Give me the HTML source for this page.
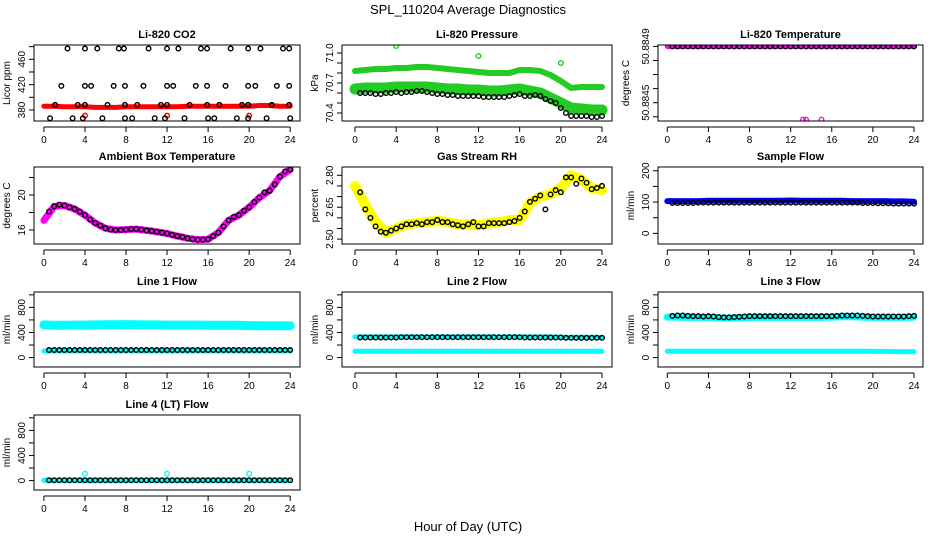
<!DOCTYPE html>
<html><head><meta charset="utf-8"><style>
html,body{margin:0;padding:0;background:#fff;}
svg{display:block;font-family:"Liberation Sans",Arial,sans-serif;}
</style></head><body>
<svg id="chart" width="936" height="540" viewBox="0 0 936 540" xmlns="http://www.w3.org/2000/svg">
<text x="468" y="14" text-anchor="middle" font-size="13">SPL_110204  Average Diagnostics</text>
<text x="468" y="531" text-anchor="middle" font-size="13">Hour of Day (UTC)</text>
</svg>
<script>
// ---- data ----
const hourly = [0,1,2,3,4,5,6,7,8,9,10,11,12,13,14,15,16,17,18,19,20,21,22,23,24];
const halfHours = [0.5,1,1.5,2,2.5,3,3.5,4,4.5,5,5.5,6,6.5,7,7.5,8,8.5,9,9.5,10,10.5,11,11.5,12,12.5,13,13.5,14,14.5,15,15.5,16,16.5,17,17.5,18,18.5,19,19.5,20,20.5,21,21.5,22,22.5,23,23.5,24];
const xTicks = [0,4,8,12,16,20,24];

// CO2
const co2BlackHours = [2.3,4.0,5.2,7.3,7.8,10.2,12.0,13.1,15.3,15.9,18.2,19.9,21.1,23.3,23.9,
 1.7,4.0,4.6,6.8,7.9,9.7,12.0,12.6,14.8,15.9,17.7,19.9,20.6,22.7,23.9,
 1.1,3.3,4.0,6.2,7.9,9.1,11.4,12.0,14.2,15.9,17.1,19.3,19.9,22.2,23.9,
 0.6,2.8,3.8,5.7,7.9,8.6,10.8,11.8,13.7,16.0,16.6,18.8,19.9,21.7,24.0];
const co2BlackValues = [477,477,477,477,477,477,477,477,477,477,477,477,477,477,477,
 418,418,418,418,418,418,418,418,418,418,418,418,418,418,418,
 388,388,388,388,388,388,388,388,388,388,388,388,388,388,388,
 367,367,367,367,367,367,367,367,367,367,367,367,367,367,367];
const co2Band = [386,386,385,385,385,384,384,384,385,385,385,385,385,385,386,386,386,386,386,386,386,387,387,386,386];
const co2OutHours = [4,12,20];
const co2OutValues = [371,371,371];

// Pressure
const presBlack = [70.60,70.60,70.60,70.59,70.59,70.60,70.60,70.61,70.60,70.61,70.61,70.62,70.62,70.61,70.60,70.59,
 70.59,70.58,70.58,70.57,70.57,70.57,70.57,70.57,70.56,70.56,70.56,70.56,70.56,70.57,70.58,70.59,
 70.57,70.57,70.58,70.57,70.54,70.52,70.50,70.45,70.40,70.37,70.37,70.37,70.37,70.36,70.36,70.37];
const presUpper = [70.82,70.83,70.84,70.84,70.85,70.85,70.86,70.86,70.85,70.84,70.83,70.82,70.81,70.80,70.80,70.80,70.83,70.83,70.82,70.78,70.72,70.65,70.66,70.66,70.66];
const presMiddle = [70.64,70.65,70.65,70.65,70.66,70.66,70.66,70.66,70.65,70.64,70.64,70.63,70.63,70.62,70.62,70.63,70.64,70.62,70.60,70.55,70.50,70.45,70.44,70.43,70.43];
const presOutHours = [4,12,20];
const presOutValues = [71.07,70.97,70.9];

// Li-820 temperature
const tempBlack = [50.8849,50.8849,50.8849,50.8849,50.8849,50.8849,50.8849,50.8849,50.8849,50.8849,50.8849,50.8849,50.8849,50.8849,50.8849,50.8849,50.8849,50.8849,50.8849,50.8849,50.8849,50.8849,50.8849,50.8849,50.8849,50.8849,50.8849,50.8849,50.8849,50.8849,50.8849,50.8849,50.8849,50.8849,50.8849,50.8849,50.8849,50.8849,50.8849,50.8849,50.8849,50.8849,50.8849,50.8849,50.8849,50.8849,50.8849,50.8849];
const tempBand = [50.8849,50.8849,50.8849,50.8849,50.8849,50.8849,50.8849,50.8849,50.8849,50.8849,50.8849,50.8849,50.8849,50.8849,50.8849,50.8849,50.8849,50.8849,50.8849,50.8849,50.8849,50.8849,50.8849,50.8849,50.8849];
const tempOutHours = [0.1,13.2,13.5,15.0];
const tempOutValues = [50.8849,50.88438,50.88438,50.88438];

// Ambient box temperature
const ambBlack = [18.1,18.7,18.9,18.8,18.6,18.4,18.1,17.7,17.2,16.8,16.5,16.2,16.05,16.0,16.0,16.05,16.1,16.1,16.05,15.95,15.9,15.8,15.7,15.6,15.45,15.3,15.2,15.05,14.95,14.9,14.9,14.95,15.3,15.7,16.4,17.1,17.5,17.7,18.2,18.6,19.2,19.7,20.3,20.5,21.2,22.1,22.7,22.9];
const ambBand = [17.1,18.7,18.8,18.4,17.7,16.8,16.2,16.0,16.05,16.1,15.95,15.8,15.6,15.3,15.05,14.9,14.95,15.7,17.1,17.7,18.6,19.7,20.5,22.1,22.9];

// Gas stream RH
const rhBlack = [2.72,2.64,2.60,2.56,2.535,2.53,2.54,2.55,2.56,2.57,2.57,2.575,2.57,2.58,2.58,2.59,2.58,2.58,2.57,2.565,2.56,2.57,2.58,2.56,2.56,2.575,2.575,2.575,2.575,2.58,2.585,2.60,2.63,2.675,2.69,2.705,2.64,2.71,2.73,2.72,2.79,2.79,2.76,2.785,2.765,2.735,2.74,2.75];
const rhBand = [2.75,2.66,2.58,2.53,2.55,2.57,2.575,2.58,2.585,2.58,2.57,2.57,2.565,2.575,2.58,2.59,2.59,2.67,2.70,2.71,2.74,2.80,2.78,2.74,2.73];

// Sample flow
const sampleBlack = [97,97,97,97,97,98,98,98,98,98,98,98,98,98,98,98,98,98,98,98,98,98,98,98,98,98,98,98,98,98,98,98,98,98,98,98,98,97,97,97,96,96,96,95,95,95,95,95];
const sampleBand = [103,103,103,103,104,104,104,104,104,104,104,104,105,104,104,104,104,104,103,103,103,103,102,102,101];

// Line flows
const l1Black = [120,120,120,120,120,120,120,120,120,120,120,120,120,120,120,120,120,120,120,120,120,120,120,120,120,120,120,120,120,120,120,120,120,120,120,120,120,120,120,120,120,120,120,120,120,120,120,120];
const l1Upper = [520,515,515,518,518,520,522,522,525,522,520,520,518,518,518,518,516,515,515,515,510,508,508,508,508];
const l1Lower = [105,105,105,105,105,105,105,105,105,105,105,105,105,105,105,105,105,105,105,105,105,105,105,105,105];
const l2Black = [320,320,320,320,320,320,320,320,325,325,325,325,325,325,325,325,325,325,325,325,325,325,325,325,325,325,325,325,325,325,325,325,320,320,320,320,320,320,320,320,315,315,315,315,315,315,315,315];
const l2Upper = [330,330,330,330,330,330,330,330,330,330,330,330,330,330,330,330,330,330,330,330,325,325,325,325,325];
const l2Lower = [100,100,100,100,100,100,100,100,100,100,100,100,100,100,100,100,100,100,100,100,100,100,100,100,100];
const l3Black = [665,670,670,665,660,660,655,660,655,645,640,640,645,650,655,660,660,660,660,660,660,660,660,660,660,660,660,660,660,660,660,660,665,670,670,670,670,665,660,655,655,655,655,655,655,655,660,665];
const l3Upper = [645,645,640,640,640,635,630,635,640,640,640,640,640,640,640,640,645,650,650,645,640,640,640,640,645];
const l3Lower = [100,100,100,100,100,100,100,100,100,100,100,100,100,100,100,100,100,100,100,100,98,98,95,95,95];
const l4Black = [5,5,5,5,5,5,5,5,5,5,5,5,5,5,5,5,5,5,5,5,5,5,5,5,5,5,5,5,5,5,5,5,5,5,5,5,5,5,5,5,5,5,5,5,5,5,5,5];
const l4Band = [5,5,5,5,5,5,5,5,5,5,5,5,5,5,5,5,5,5,5,5,5,5,5,5,5];
const l4OutHours = [4,12,20];
const l4OutValues = [110,110,110];

// ---- layout ----
const NS = 'http://www.w3.org/2000/svg';
const svg = document.getElementById('chart');
const cols = [{l:34,r:300,x0:43.9,x24:290.2},{l:342,r:612,x0:355,x24:602},{l:658,r:923,x0:667.3,x24:914}];
const rows = [{t:45,b:121},{t:167,b:244},{t:292,b:367},{t:415,b:490}];
const flowTicks=[0,200,400,600,800,1000], flowLabels=[0,400,800];

const panels = [
 {name:'co2',title:'Li-820 CO2',ylab:'Licor ppm',c:0,r:0,yTop:482.6,yBot:362.6,ticks:[380,400,420,440,460,480],labels:[380,420,460],
  bands:[{h:hourly,v:co2Band,col:'#ff0000',w:5}],black:{h:co2BlackHours,v:co2BlackValues},outs:[{h:co2OutHours,v:co2OutValues,col:'#ff0000'}]},
 {name:'pressure',title:'Li-820 Pressure',ylab:'kPa',c:1,r:0,yTop:71.08,yBot:70.32,ticks:[70.4,70.5,70.6,70.7,70.8,70.9,71.0],labels:['70.4','70.7','71.0'],
  bands:[{h:hourly,v:presUpper,col:'#22cc22',w:6},{h:hourly,v:presMiddle,col:'#22cc22',w:11}],black:{h:halfHours,v:presBlack},outs:[{h:presOutHours,v:presOutValues,col:'#22cc22'}]},
 {name:'temperature',title:'Li-820 Temperature',ylab:'degrees C',c:2,r:0,yTop:50.88491,yBot:50.88437,ticks:[50.8844,50.8845,50.8846,50.8847,50.8848,50.8849],labels:['50.8845','50.8849'],
  bands:[{h:hourly,v:tempBand,col:'#ff00ff',w:5}],black:{h:halfHours,v:tempBlack},outs:[{h:tempOutHours,v:tempOutValues,col:'#ff00ff'}]},
 {name:'ambient-temp',title:'Ambient Box Temperature',ylab:'degrees C',c:0,r:1,yTop:23.2,yBot:14.4,ticks:[16,18,20,22],labels:[16,20],
  bands:[{h:hourly,v:ambBand,col:'#ff00ff',w:7}],black:{h:halfHours,v:ambBlack},outs:[]},
 {name:'gas-rh',title:'Gas Stream RH',ylab:'percent',c:1,r:1,yTop:2.839,yBot:2.477,ticks:[2.50,2.55,2.60,2.65,2.70,2.75,2.80],labels:['2.50','2.65','2.80'],
  bands:[{h:hourly,v:rhBand,col:'#ffff00',w:10}],black:{h:halfHours,v:rhBlack},outs:[]},
 {name:'sample-flow',title:'Sample Flow',ylab:'ml/min',c:2,r:1,yTop:212,yBot:-34,ticks:[0,50,100,150,200],labels:[0,100,200],
  bands:[{h:hourly,v:sampleBand,col:'#0000ff',w:6}],black:{h:halfHours,v:sampleBlack},outs:[]},
 {name:'line1-flow',title:'Line 1 Flow',ylab:'ml/min',c:0,r:2,yTop:1045,yBot:-150,ticks:flowTicks,labels:flowLabels,
  bands:[{h:hourly,v:l1Upper,col:'#00ffff',w:9},{h:hourly,v:l1Lower,col:'#00ffff',w:5}],black:{h:halfHours,v:l1Black},outs:[]},
 {name:'line2-flow',title:'Line 2 Flow',ylab:'ml/min',c:1,r:2,yTop:1045,yBot:-150,ticks:flowTicks,labels:flowLabels,
  bands:[{h:hourly,v:l2Upper,col:'#00ffff',w:5},{h:hourly,v:l2Lower,col:'#00ffff',w:5}],black:{h:halfHours,v:l2Black},outs:[]},
 {name:'line3-flow',title:'Line 3 Flow',ylab:'ml/min',c:2,r:2,yTop:1045,yBot:-150,ticks:flowTicks,labels:flowLabels,
  bands:[{h:hourly,v:l3Upper,col:'#00ffff',w:7},{h:hourly,v:l3Lower,col:'#00ffff',w:5}],black:{h:halfHours,v:l3Black},outs:[]},
 {name:'line4-flow',title:'Line 4 (LT) Flow',ylab:'ml/min',c:0,r:3,yTop:1045,yBot:-150,ticks:flowTicks,labels:flowLabels,
  bands:[{h:hourly,v:l4Band,col:'#00ffff',w:5}],black:{h:halfHours,v:l4Black},outs:[{h:l4OutHours,v:l4OutValues,col:'#00ffff'}]}
];

function mk(tag, attrs, parent){
  const e=document.createElementNS(NS,tag);
  for(const k in attrs) e.setAttribute(k,attrs[k]);
  (parent||svg).appendChild(e); return e;
}

panels.forEach(p=>{
  const C=cols[p.c], R=rows[p.r];
  const xs=h=>C.x0+(C.x24-C.x0)*h/24;
  const ys=v=>R.b-(v-p.yBot)/(p.yTop-p.yBot)*(R.b-R.t);
  const g=mk('g',{});
  
  
  const clipId='clip-'+p.name;
  const cp=mk('clipPath',{id:clipId},g);
  mk('rect',{x:C.l,y:R.t,width:C.r-C.l,height:R.b-R.t},cp);
  const plot=mk('g',{'clip-path':'url(#'+clipId+')'},g);
  p.bands.forEach(b=>{
    const pts=b.h.map((h,i)=>xs(h).toFixed(1)+','+ys(b.v[i]).toFixed(1)).join(' ');
    const pl=mk('polyline',{points:pts,fill:'none',stroke:b.col,'stroke-width':b.w,'stroke-linejoin':'round','stroke-linecap':'round'},plot);
    
    
  });
  p.outs.forEach(o=>{
    o.h.forEach((h,i)=>{
      const c=mk('circle',{cx:xs(h),cy:ys(o.v[i]),r:2.3,fill:'none',stroke:o.col,'stroke-width':1.4},plot);
      
      
    });
  });
  p.black.h.forEach((h,i)=>{
    const c=mk('circle',{cx:xs(h),cy:ys(p.black.v[i]),r:2.3,fill:'none',stroke:'#000','stroke-width':1.4},plot);
    
    
  });
  const box=mk('rect',{x:C.l,y:R.t,width:C.r-C.l,height:R.b-R.t,fill:'none',stroke:'#000','stroke-width':1},g);
  
  
  const xa=mk('g',{},g);
  
  
  const xb=R.b+6;
  mk('line',{x1:xs(0),x2:xs(24),y1:xb,y2:xb,stroke:'#000'},xa);
  xTicks.forEach(t=>{
    mk('line',{x1:xs(t),x2:xs(t),y1:xb,y2:xb+5,stroke:'#000'},xa);
    const tx=mk('text',{x:xs(t),y:xb+16,'text-anchor':'middle','font-size':10},xa);
    tx.textContent=t;
  });
  const ya=mk('g',{},g);
  
  
  const yl=C.l;
  const t0=p.ticks[0], t1=p.ticks[p.ticks.length-1];
  mk('line',{x1:yl,x2:yl,y1:ys(t0),y2:ys(t1),stroke:'#000'},ya);
  p.ticks.forEach(t=>{ if(ys(t)>=R.t-1&&ys(t)<=R.b+1) mk('line',{x1:yl-5,x2:yl,y1:ys(t),y2:ys(t),stroke:'#000'},ya); });
  p.labels.forEach(l=>{
    const y=ys(+l); const x=yl-9;
    const tx=mk('text',{x:x,y:y,'text-anchor':'middle','font-size':10,transform:'rotate(-90 '+x+' '+y+')'},ya);
    tx.textContent=l;
  });
  const lx=yl-(String(p.labels[0]).length>4?29:24), ly=(R.t+R.b)/2;
  const ylab=mk('text',{x:lx,y:ly,'text-anchor':'middle','font-size':10,transform:'rotate(-90 '+lx+' '+ly+')'},g);
  ylab.textContent=p.ylab;
  
  
  const title=mk('text',{x:(C.l+C.r)/2,y:R.t-7,'text-anchor':'middle','font-size':11,'font-weight':'bold'},g);
  title.textContent=p.title;
  
  
});
</script>
</body></html>
